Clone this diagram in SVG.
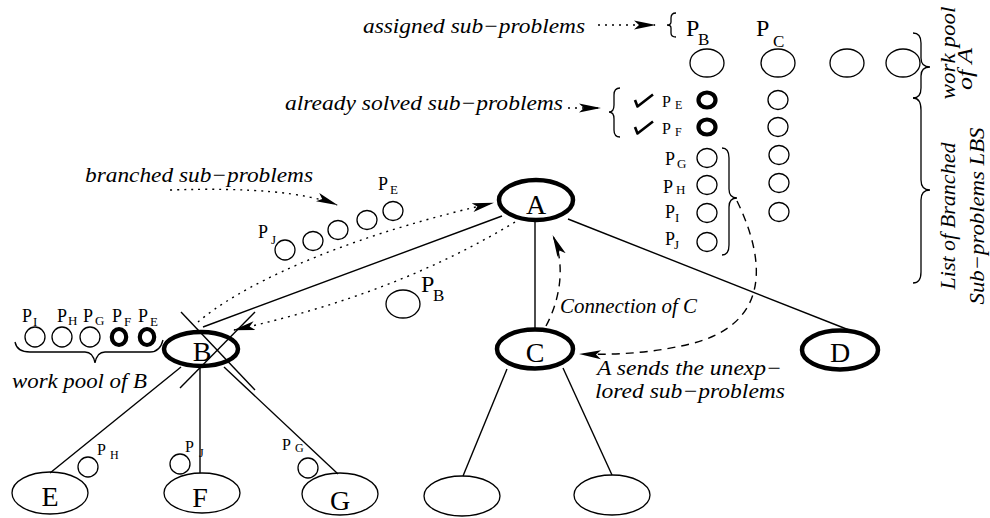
<svg xmlns="http://www.w3.org/2000/svg" width="990" height="518" viewBox="0 0 990 518">
  <defs>
    <marker id="ah" markerUnits="userSpaceOnUse" viewBox="0 0 22 10" markerWidth="22" markerHeight="10" refX="21" refY="5" orient="auto">
      <path d="M0,0.5 L22,5 L0,9.5 L5,5 Z" fill="#000"/>
    </marker>
  </defs>
  <style>
    .bg { fill: #fff; }
    .thick { fill: none; stroke: #000; stroke-width: 4.5; }
    .thin { fill: none; stroke: #000; stroke-width: 1.3; }
    .bold { fill: none; stroke: #000; stroke-width: 4.2; }
    .edge { fill: none; stroke: #000; stroke-width: 1.4; }
    .dot { fill: none; stroke: #000; stroke-width: 1.4; stroke-dasharray: 2 5; }
    .dash { fill: none; stroke: #000; stroke-width: 1.4; stroke-dasharray: 8 6; }
    .brace { fill: none; stroke: #000; stroke-width: 1.3; }
    .chk { fill: none; stroke: #000; stroke-width: 2.6; stroke-linejoin: round; }
    text { font-family: "Liberation Serif", "Times New Roman", serif; fill: #000; }
    .it { font-style: italic; font-size: 21px; }
    .node { font-size: 28px; text-anchor: middle; }
    .pl { font-size: 24px; }
    .ps { font-size: 17px; }
    .pm { font-size: 18px; }
    .pms { font-size: 13px; }
    .pn { font-size: 16px; }
    .pns { font-size: 12px; }
  </style>
  <rect class="bg" x="0" y="0" width="990" height="518"/>

  <!-- tree edges and message arrows -->
  <g id="connectors">
    <line class="edge" x1="203" y1="327" x2="502" y2="216"/>
    <line class="edge" x1="535" y1="222" x2="535" y2="329"/>
    <line class="edge" x1="568" y1="219" x2="849" y2="330"/>
    <line class="edge" x1="181" y1="367" x2="50" y2="473"/>
    <line class="edge" x1="200" y1="368" x2="200" y2="473"/>
    <line class="edge" x1="224" y1="367" x2="338" y2="474"/>
    <line class="edge" x1="507" y1="369" x2="463" y2="476"/>
    <line class="edge" x1="563" y1="368" x2="612" y2="475"/>
    <!-- B is crossed out -->
    <line class="edge" x1="181" y1="312" x2="255" y2="390"/>
    <line class="edge" x1="255" y1="312" x2="180" y2="388"/>
    <!-- branched sub-problems sent from B to A -->
    <path class="dot" d="M198,322 C235,290 330,240 493,203" marker-end="url(#ah)"/>
    <!-- P_B sent from A to B -->
    <path class="dot" d="M515,222 Q395,295 234,330" marker-end="url(#ah)"/>
    <!-- connection of C -->
    <path class="dash" d="M546,326 C560,300 566,265 553,236" marker-end="url(#ah)"/>
    <!-- unexplored sub-problems sent to C -->
    <path class="dash" d="M737,201 C768,265 768,325 690,344 Q640,356 580,354" marker-end="url(#ah)"/>
    <!-- annotation pointers -->
    <path class="dot" d="M170,190 Q290,186 337,205" marker-end="url(#ah)"/>
    <path class="dot" d="M598,25 L655,25" marker-end="url(#ah)"/>
    <path class="dot" d="M568,108 L600,108" marker-end="url(#ah)"/>
  </g>

  <!-- tree nodes -->
  <g id="node-A">
    <ellipse class="thick" cx="536" cy="200" rx="37" ry="20"/>
    <text class="node" x="536" y="214">A</text>
  </g>
  <g id="node-B">
    <ellipse class="thick" cx="201" cy="349" rx="37" ry="17"/>
    <text class="node" x="202" y="361">B</text>
  </g>
  <g id="node-C">
    <ellipse class="thick" cx="535" cy="349" rx="38" ry="19.5"/>
    <text class="node" x="535" y="362">C</text>
  </g>
  <g id="node-D">
    <ellipse class="thick" cx="840" cy="350" rx="38" ry="19.5"/>
    <text class="node" x="840" y="362">D</text>
  </g>
  <g id="node-E">
    <ellipse class="thin" cx="50" cy="493" rx="38" ry="21"/>
    <text class="node" x="50" y="506">E</text>
  </g>
  <g id="node-F">
    <ellipse class="thin" cx="202" cy="493" rx="38" ry="20"/>
    <text class="node" x="200" y="507">F</text>
  </g>
  <g id="node-G">
    <ellipse class="thin" cx="340" cy="494" rx="38" ry="21"/>
    <text class="node" x="340" y="510">G</text>
  </g>
  <g id="node-C1">
    <ellipse class="thin" cx="462" cy="496" rx="38" ry="20"/>
  </g>
  <g id="node-C2">
    <ellipse class="thin" cx="612" cy="495" rx="38" ry="20"/>
  </g>

  <!-- work pool of A / list of branched sub-problems -->
  <g id="pool-A">
    <text class="it" x="363" y="33" textLength="222" lengthAdjust="spacingAndGlyphs">assigned sub−problems</text>
    <path class="brace" d="M676,13 Q671,13 671,18 L671,22 Q671,25 667,25 Q671,25 671,28 L671,33 Q671,37 676,37"/>
    <text class="pl" x="686" y="36">P</text><text class="ps" x="698" y="45">B</text>
    <text class="pl" x="756" y="36">P</text><text class="ps" x="773" y="47">C</text>
    <ellipse class="thin" cx="707" cy="63" rx="17" ry="14"/>
    <ellipse class="thin" cx="778" cy="63" rx="17" ry="14"/>
    <ellipse class="thin" cx="847" cy="63" rx="17" ry="14"/>
    <ellipse class="thin" cx="903" cy="63" rx="17" ry="14"/>

    <text class="it" x="285" y="110" textLength="278" lengthAdjust="spacingAndGlyphs">already solved sub−problems</text>
    <path class="brace" d="M620,88 Q614,88 614,95 L614,105 Q614,112 609,112 Q614,112 614,119 L614,130 Q614,137 620,137"/>
    <path class="chk" d="M635,100 L637.5,106.5 L653,94.5"/>
    <path class="chk" d="M635,127 L637.5,133.5 L653,121.5"/>
    <text class="pn" x="662" y="107">P</text><text class="pns" x="675" y="109">E</text>
    <text class="pn" x="662" y="134">P</text><text class="pns" x="675" y="136">F</text>
    <ellipse class="bold" cx="707" cy="100" rx="8.5" ry="7.5"/>
    <ellipse class="bold" cx="707" cy="127" rx="8.5" ry="7.5"/>

    <text class="pm" x="665" y="165">P</text><text class="pms" x="677" y="168">G</text>
    <text class="pm" x="663" y="193">P</text><text class="pms" x="676" y="194">H</text>
    <text class="pm" x="665" y="218">P</text><text class="pms" x="675" y="222">I</text>
    <text class="pm" x="665" y="245">P</text><text class="pms" x="674" y="249">J</text>
    <ellipse class="thin" cx="707" cy="158" rx="10" ry="9.5"/>
    <ellipse class="thin" cx="707" cy="185" rx="10" ry="9.5"/>
    <ellipse class="thin" cx="707" cy="213" rx="10" ry="9.5"/>
    <ellipse class="thin" cx="707" cy="242" rx="10" ry="9.5"/>
    <path class="brace" d="M722,148 Q729,148 729,158 L729,189 Q729,198 737,198 Q729,198 729,207 L729,245 Q729,255 722,255"/>

    <ellipse class="thin" cx="778" cy="100" rx="10" ry="9.5"/>
    <ellipse class="thin" cx="778" cy="127" rx="10" ry="9.5"/>
    <ellipse class="thin" cx="779" cy="155" rx="10" ry="9.5"/>
    <ellipse class="thin" cx="779" cy="183" rx="10" ry="9.5"/>
    <ellipse class="thin" cx="779" cy="212" rx="10" ry="9.5"/>

    <path class="brace" d="M913,33 Q921,33 921,43 L921,58 Q921,67 930,67 Q921,67 921,76 L921,88 Q921,98 913,98"/>
    <path class="brace" d="M913,98 Q921,98 921,110 L921,180 Q921,190 930,190 Q921,190 921,200 L921,272 Q921,283 913,283"/>
    <text class="it" text-anchor="middle" transform="translate(955,53) rotate(-90)" textLength="93" lengthAdjust="spacingAndGlyphs">work pool</text>
    <text class="it" text-anchor="middle" transform="translate(972,69) rotate(-90)" textLength="42" lengthAdjust="spacingAndGlyphs">of A</text>
    <text class="it" text-anchor="middle" transform="translate(955,216) rotate(-90)" textLength="147" lengthAdjust="spacingAndGlyphs">List of Branched</text>
    <text class="it" text-anchor="middle" transform="translate(984,216) rotate(-90)" textLength="177" lengthAdjust="spacingAndGlyphs">Sub−problems LBS</text>
  </g>

  <!-- branched sub-problems travelling to A -->
  <g id="branched">
    <text class="it" x="85" y="182" textLength="228" lengthAdjust="spacingAndGlyphs">branched sub−problems</text>
    <text class="pm" x="258" y="238">P</text><text class="pms" x="271" y="244">J</text>
    <text class="pm" x="378" y="190">P</text><text class="pms" x="390" y="194">E</text>
    <ellipse class="thin" cx="285" cy="250" rx="10" ry="10"/>
    <ellipse class="thin" cx="313" cy="241" rx="10" ry="9.5"/>
    <ellipse class="thin" cx="338" cy="230" rx="10" ry="9.5"/>
    <ellipse class="thin" cx="367" cy="220" rx="10" ry="9.5"/>
    <ellipse class="thin" cx="393" cy="211" rx="10" ry="9.5"/>
  </g>

  <!-- P_B travelling to B -->
  <g id="assigned-B">
    <ellipse class="thin" cx="403" cy="304" rx="17" ry="14"/>
    <text class="pl" x="421" y="292">P</text><text class="ps" x="433" y="301">B</text>
  </g>

  <!-- work pool of B -->
  <g id="pool-B">
    <text class="pm" x="22" y="322">P</text><text class="pms" x="33" y="326">I</text>
    <text class="pm" x="57" y="322">P</text><text class="pms" x="68" y="325">H</text>
    <text class="pm" x="83" y="322">P</text><text class="pms" x="95" y="325">G</text>
    <text class="pm" x="112" y="322">P</text><text class="pms" x="124" y="326">F</text>
    <text class="pm" x="138" y="322">P</text><text class="pms" x="150" y="326">E</text>
    <ellipse class="thin" cx="35" cy="337" rx="10" ry="10"/>
    <ellipse class="thin" cx="62" cy="337" rx="10" ry="10"/>
    <ellipse class="thin" cx="90" cy="337" rx="10" ry="10"/>
    <ellipse class="bold" cx="119" cy="337" rx="7.2" ry="8"/>
    <ellipse class="bold" cx="147" cy="337" rx="7.2" ry="8"/>
    <path class="brace" d="M15,342 Q17,352 30,352 L85,352 Q93,352 95,363 Q97,352 105,352 L150,352 Q160,352 163,340"/>
    <text class="it" x="12" y="388" textLength="135" lengthAdjust="spacingAndGlyphs">work pool of B</text>
  </g>

  <!-- sub-problems at the leaves -->
  <g id="leaf-work">
    <ellipse class="thin" cx="88" cy="467" rx="10" ry="10"/>
    <text class="pn" x="97" y="455">P</text><text class="pns" x="110" y="459">H</text>
    <ellipse class="thin" cx="180" cy="464" rx="10" ry="10"/>
    <text class="pn" x="185" y="452">P</text><text class="pns" x="199" y="457">J</text>
    <ellipse class="thin" cx="308" cy="468" rx="10" ry="10"/>
    <text class="pn" x="282" y="450">P</text><text class="pns" x="295" y="452">G</text>
  </g>

  <!-- annotations near C -->
  <g id="notes-C">
    <text class="it" x="560" y="313" textLength="137" lengthAdjust="spacingAndGlyphs">Connection of C</text>
    <text class="it" x="597" y="375" textLength="185" lengthAdjust="spacingAndGlyphs">A sends the unexp−</text>
    <text class="it" x="595" y="398" textLength="190" lengthAdjust="spacingAndGlyphs">lored sub−problems</text>
  </g>
</svg>
